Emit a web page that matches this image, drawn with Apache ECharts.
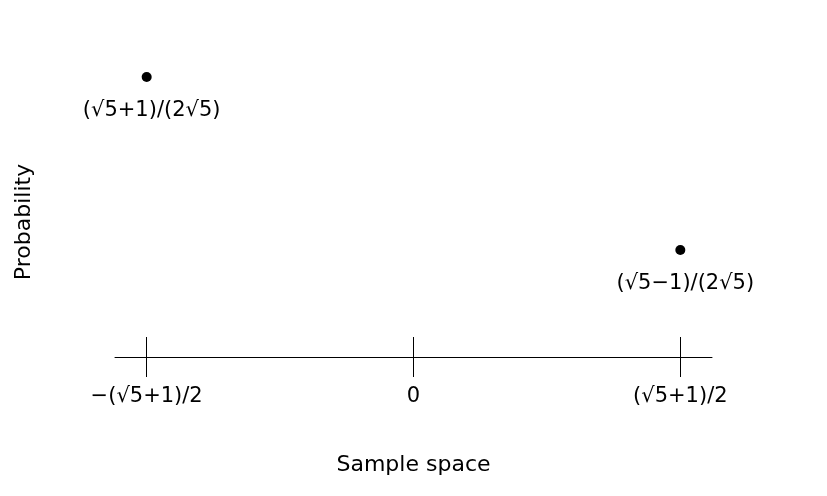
<!DOCTYPE html>
<html>
<head>
<meta charset="utf-8">
<script src="https://cdn.jsdelivr.net/npm/echarts@6/dist/echarts.min.js"></script>
<style>
html,body{margin:0;padding:0;background:#fff;}
#main{width:827px;height:496px;}
</style>
</head>
<body>
<div id="main"></div>
<script>
// Data
const xTickValues = [-1.618, 0, 1.618];
const xTickLabels = ['\u2212(\u221A5+1)/2', '0', '(\u221A5+1)/2'];
const pointX = [-1.618, 1.618];
const pointProb = [0.7236, 0.2764];
const pointLabels = ['(\u221A5+1)/(2\u221A5)', '(\u221A5\u22121)/(2\u221A5)'];
const xAxisName = 'Sample space';
const yAxisName = 'Probability';

const FONT = 'DejaVu Sans';
const chart = echarts.init(document.getElementById('main'), null, {renderer: 'canvas'});

const scatterData = pointX.map((x, i) => ({
  value: [x, pointProb[i]],
  label: {formatter: pointLabels[i]}
}));

chart.setOption({
  animation: false,
  backgroundColor: '#fff',
  grid: {left: 115, right: 115, top: 47.4, bottom: 139},
  xAxis: [{
    type: 'value', min: -1.81, max: 1.81, position: 'bottom',
    name: xAxisName, nameLocation: 'middle', nameGap: 97,
    nameTextStyle: {fontFamily: FONT, fontSize: 22, color: '#000'},
    axisLine: {show: true, onZero: false, lineStyle: {color: '#000', width: 1}},
    axisTick: {show: true, inside: false, length: 20, customValues: xTickValues, lineStyle: {color: '#000', width: 1}},
    axisLabel: {show: true, margin: 29.5, customValues: xTickValues, fontFamily: FONT, fontSize: 21, color: '#000',
      formatter: v => { const i = xTickValues.findIndex(t => Math.abs(t - v) < 1e-6); return i >= 0 ? xTickLabels[i] : ''; }},
    splitLine: {show: false}
  }, {
    type: 'value', min: -1.81, max: 1.81, position: 'bottom',
    axisLine: {show: false, onZero: false},
    axisTick: {show: true, inside: true, length: 20, customValues: xTickValues, lineStyle: {color: '#000', width: 1}},
    axisLabel: {show: false},
    splitLine: {show: false}
  }],
  yAxis: {
    type: 'value', min: 0, max: 0.8, show: false
  },
  graphic: [{
    type: 'text', x: 24, y: 222, rotation: Math.PI / 2,
    style: {text: yAxisName, fontFamily: FONT, fontSize: 22, fill: '#000', align: 'center', verticalAlign: 'middle'}
  }],
  series: [{
    type: 'scatter', xAxisIndex: 0, yAxisIndex: 0,
    symbol: 'circle', symbolSize: 10,
    itemStyle: {color: '#000', opacity: 1},
    label: {show: true, position: 'bottom', distance: 18.5, offset: [5, 0],
      fontFamily: FONT, fontSize: 21, color: '#000'},
    data: scatterData,
    clip: false
  }]
});
</script>
</body>
</html>
